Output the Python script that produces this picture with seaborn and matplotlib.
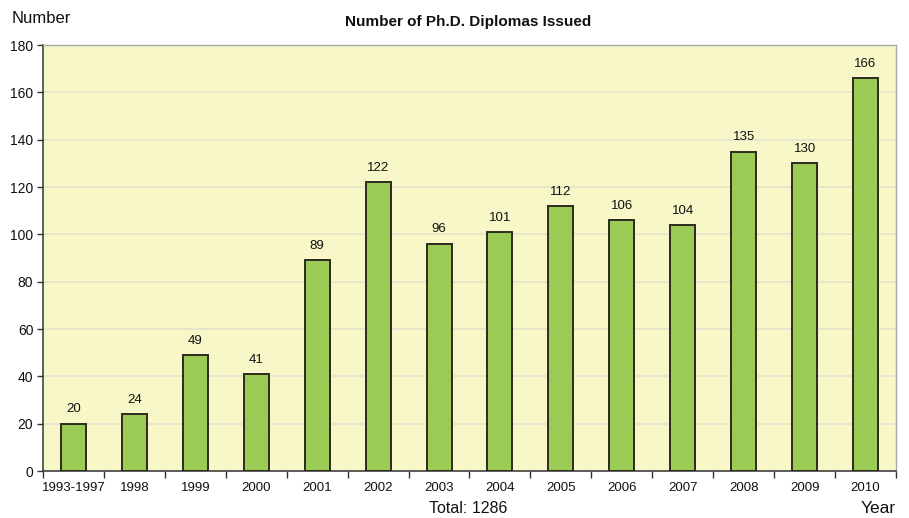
import matplotlib
matplotlib.use("Agg")
import matplotlib.pyplot as plt
import seaborn as sns
import pandas as pd
import numpy as np
from matplotlib.ticker import FixedLocator
from matplotlib import font_manager

years = ["1993-1997", "1998", "1999", "2000", "2001", "2002", "2003", "2004",
         "2005", "2006", "2007", "2008", "2009", "2010"]
counts = [20, 24, 49, 41, 89, 122, 96, 101, 112, 106, 104, 135, 130, 166]
y_ticks = [0, 20, 40, 60, 80, 100, 120, 140, 160, 180]

sns.set_theme(style="white")
names = {f.name for f in font_manager.fontManager.ttflist}
fam = ['Liberation Sans Narrow'] if 'Liberation Sans Narrow' in names else []
plt.rcParams['font.family'] = fam + ['Liberation Sans', 'DejaVu Sans']

df = pd.DataFrame({"year": years, "count": counts})

fig = plt.figure(figsize=(9.09, 5.18), dpi=100)
ax = fig.add_axes([0.0473, 0.0907, 0.9384, 0.8224])
ax.set_facecolor("#F8F7C8")

sns.barplot(data=df, x="year", y="count", color="#9BCB55", saturation=1,
            edgecolor="#2B2B1E", linewidth=1.4, width=0.41, ax=ax, zorder=3)

ax.set_ylim(0, 180)
ax.set_xlim(-0.5, len(years) - 0.5)
ax.set_yticks(y_ticks)
ax.yaxis.grid(True, color="#E4E2CC", linewidth=1.2, zorder=0)
ax.set_axisbelow(True)

ax.bar_label(ax.containers[0], labels=[str(c) for c in counts], padding=6,
             fontsize=9.5, color="#111111")

# ticks at category boundaries
ax.xaxis.set_minor_locator(FixedLocator(np.arange(-0.5, len(years), 1.0)))
ax.tick_params(axis="x", which="major", length=0, labelsize=9.5, pad=8, colors="#111111")
ax.tick_params(axis="x", which="minor", length=5, width=1, color="#333333", bottom=True)
ax.tick_params(axis="y", which="major", length=4, width=1, color="#333333",
               labelsize=10, pad=3, left=True, colors="#111111")
ax.tick_params(axis="y", which="major", color="#333333")

for s in ["left", "bottom"]:
    ax.spines[s].set_color("#333333")
    ax.spines[s].set_linewidth(1.1)
for s in ["top", "right"]:
    ax.spines[s].set_color("#AAAAAA")
    ax.spines[s].set_linewidth(1.0)

ax.set_xlabel("")
ax.set_ylabel("")

fig.text(0.515, 0.957, "Number of Ph.D. Diplomas Issued", ha="center", va="center",
         fontsize=11, fontweight="bold", color="#111111")
fig.text(0.013, 0.965, "Number", ha="left", va="center", fontsize=12, color="#111111")
fig.text(0.515, 0.019, "Total: 1286", ha="center", va="center", fontsize=11.5, color="#111111")
fig.text(0.985, 0.019, "Year", ha="right", va="center", fontsize=12.5, color="#111111")

fig.savefig("out.png", dpi=100)
